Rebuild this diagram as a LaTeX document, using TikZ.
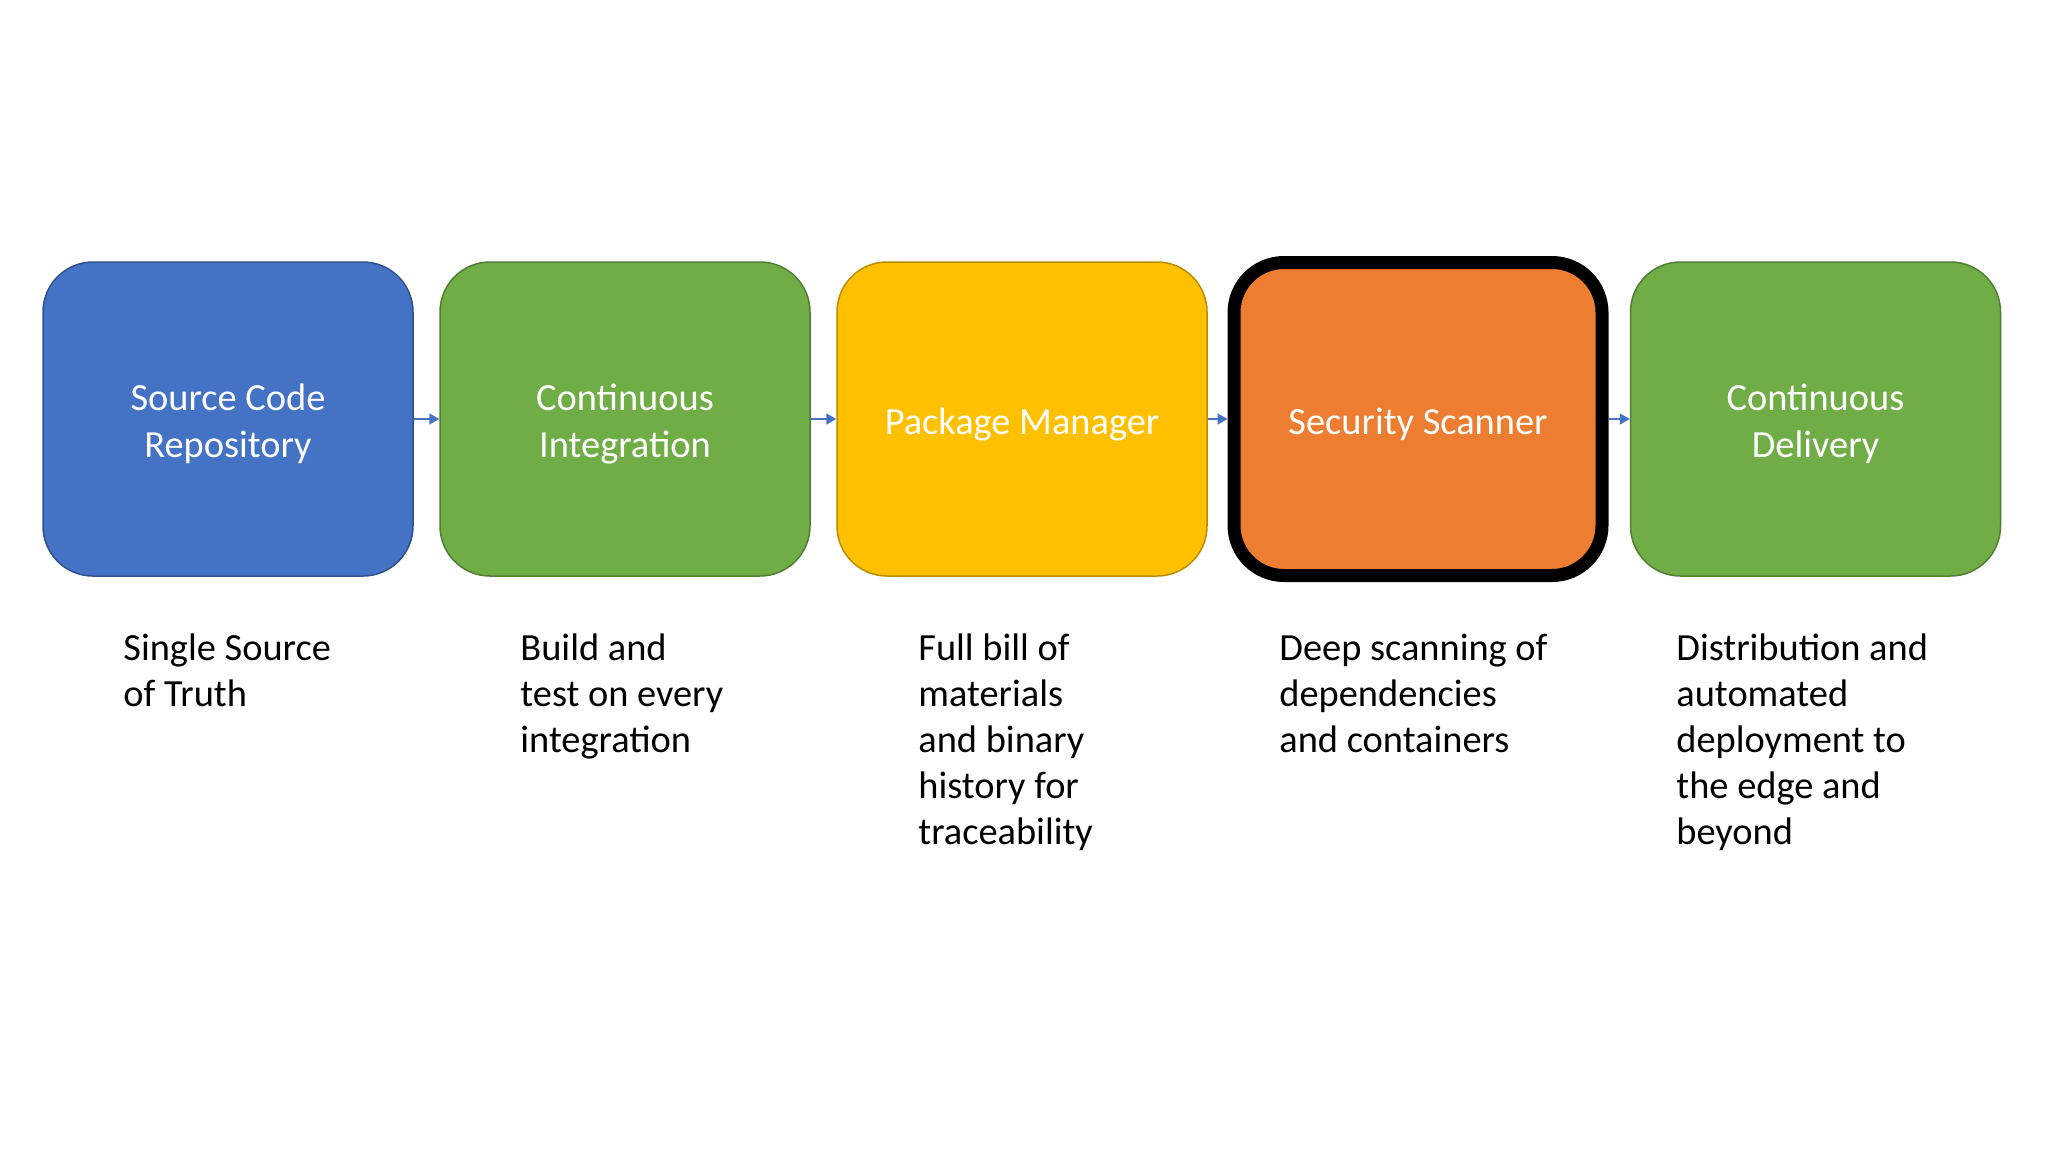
\documentclass[tikz,border=0pt]{standalone}
\usepackage{fontspec}
\setmainfont{Carlito}
\usetikzlibrary{arrows.meta}
\definecolor{cblue}{HTML}{4472C4}
\definecolor{cblueb}{HTML}{2F528F}
\definecolor{cgreen}{HTML}{70AD47}
\definecolor{cgreenb}{HTML}{507E32}
\definecolor{cyellow}{HTML}{FFC000}
\definecolor{cyellowb}{HTML}{BC8C00}
\definecolor{corange}{HTML}{ED7D31}
\newcommand{\desclines}[1]{\begin{tabular}[t]{@{}l@{}}#1\end{tabular}}
\tikzset{
  stage/.style={rounded corners=25pt, minimum width=185pt, minimum height=157pt,
    inner sep=0pt, line width=0.75pt},
  stagetext/.style={text=white, align=center, yshift=-2.5pt,
    font=\fontsize{19.2}{23.4}\selectfont},
  desc/.style={anchor=base west, inner sep=0pt, text=black,
    font=\fontsize{19.2}{23}\selectfont},
  flow/.style={-{Triangle[length=5pt,width=5.5pt]}, draw=cblue, line width=0.75pt}
}
\begin{document}
\begin{tikzpicture}[x=0.5pt,y=-0.5pt]
\useasboundingbox[fill=white] (0,0) rectangle (2048,1152);
\node[stage, fill=cblue, draw=cblueb, label={[stagetext]center:{Source Code\\Repository}}] (s1) at (228,419) {};
\node[stage, fill=cgreen, draw=cgreenb, label={[stagetext]center:{Continuous\\Integration}}] (s2) at (625,419) {};
\node[stage, fill=cyellow, draw=cyellowb, label={[stagetext]center:{Package Manager}}] (s3) at (1022,419) {};
\node[stage, fill=corange, draw=black, line width=6.5pt, minimum width=184pt, minimum height=156.5pt, label={[stagetext]center:{Security Scanner}}] (s4) at (1418,419) {};
\node[stage, fill=cgreen, draw=cgreenb, label={[stagetext]center:{Continuous\\Delivery}}] (s5) at (1815.5,419) {};
\draw[flow] (s1) -- (s2);
\draw[flow] (s2) -- (s3);
\draw[flow] (s3) -- (s4);
\draw[flow] (s4) -- (s5);
\node[desc] (d1) at (123,660) {\desclines{Single Source\\of Truth}};
\node[desc] (d2) at (520,660) {\desclines{Build and\\test on every\\integration}};
\node[desc] (d3) at (918,660) {\desclines{Full bill of\\materials\\and binary\\history for\\traceability}};
\node[desc] (d4) at (1279,660) {\desclines{Deep scanning of\\dependencies\\and containers}};
\node[desc] (d5) at (1676,660) {\desclines{Distribution and\\automated\\deployment to\\the edge and\\beyond}};
\end{tikzpicture}
\end{document}
